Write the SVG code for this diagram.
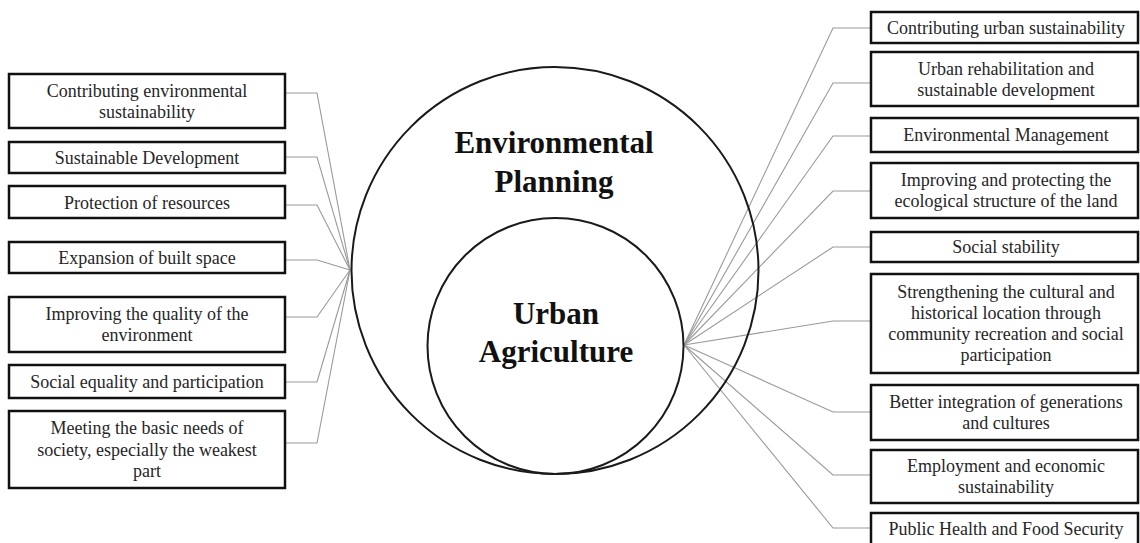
<svg xmlns="http://www.w3.org/2000/svg" width="1140" height="543" viewBox="0 0 1140 543">
<style>
.box{fill:#fff;stroke:#111;stroke-width:2.5}
.t{font-family:"Liberation Serif","Times New Roman",serif;font-size:18px;fill:#262626;text-anchor:middle}
.big{font-family:"Liberation Serif","Times New Roman",serif;font-size:31px;font-weight:bold;fill:#111;text-anchor:middle}
.c{fill:none;stroke:#1a1a1a;stroke-width:2}
.ln{fill:none;stroke:#9a9a9a;stroke-width:1.1}
</style>
<rect width="1140" height="543" fill="#fff"/>
<g id="connectors">
<polyline class="ln" points="285,93 317,93 350,270"/>
<polyline class="ln" points="285,157 317,157 350,270"/>
<polyline class="ln" points="285,205 317,205 350,270"/>
<polyline class="ln" points="285,260 317,260 350,270"/>
<polyline class="ln" points="285,317 317,317 350,270"/>
<polyline class="ln" points="285,382 317,382 350,270"/>
<polyline class="ln" points="285,443 317,443 350,270"/>
<polyline class="ln" points="871,28 833,28 684,345"/>
<polyline class="ln" points="871,83 833,83 684,345"/>
<polyline class="ln" points="871,136 833,136 684,345"/>
<polyline class="ln" points="871,191 833,191 684,345"/>
<polyline class="ln" points="871,247 833,247 684,345"/>
<polyline class="ln" points="871,321 833,321 684,345"/>
<polyline class="ln" points="871,412 833,412 684,345"/>
<polyline class="ln" points="871,475 833,475 684,345"/>
<polyline class="ln" points="871,528 833,528 684,345"/>
</g>
<g id="environmental-planning">
<circle class="c" cx="555" cy="270.5" r="203.5"/>
<text class="big" x="554" y="153">Environmental</text>
<text class="big" x="554" y="192">Planning</text>
</g>
<g id="urban-agriculture">
<circle class="c" cx="555.5" cy="346" r="128"/>
<text class="big" x="556" y="324">Urban</text>
<text class="big" x="556" y="362">Agriculture</text>
</g>
<g id="l1"><rect class="box" x="9" y="74" width="276" height="54"/><text class="t" x="147" y="96.5">Contributing  environmental</text><text class="t" x="147" y="117.5">sustainability</text></g>
<g id="l2"><rect class="box" x="9" y="142" width="276" height="31"/><text class="t" x="147" y="163.5">Sustainable  Development</text></g>
<g id="l3"><rect class="box" x="9" y="186" width="276" height="32"/><text class="t" x="147" y="208.5">Protection of resources</text></g>
<g id="l4"><rect class="box" x="9" y="242" width="276" height="31"/><text class="t" x="147" y="264">Expansion of built space</text></g>
<g id="l5"><rect class="box" x="9" y="297" width="276" height="55"/><text class="t" x="147" y="320">Improving the quality of the</text><text class="t" x="147" y="341">environment</text></g>
<g id="l6"><rect class="box" x="9" y="365" width="276" height="33"/><text class="t" x="147" y="387.5">Social equality and participation</text></g>
<g id="l7"><rect class="box" x="9" y="411" width="276" height="77"/><text class="t" x="147" y="434">Meeting the basic needs of</text><text class="t" x="147" y="455.5">society, especially the weakest</text><text class="t" x="147" y="477">part</text></g>
<g id="r1"><rect class="box" x="871" y="12" width="267" height="31"/><text class="t" x="1006" y="34">Contributing urban sustainability</text></g>
<g id="r2"><rect class="box" x="871" y="52" width="267" height="54"/><text class="t" x="1006" y="74.5">Urban rehabilitation and</text><text class="t" x="1006" y="95.5">sustainable development</text></g>
<g id="r3"><rect class="box" x="871" y="118" width="267" height="34"/><text class="t" x="1006" y="141">Environmental Management</text></g>
<g id="r4"><rect class="box" x="871" y="163" width="267" height="55"/><text class="t" x="1006" y="186">Improving and protecting the</text><text class="t" x="1006" y="207">ecological structure of the land</text></g>
<g id="r5"><rect class="box" x="871" y="232" width="267" height="30"/><text class="t" x="1006" y="253">Social stability</text></g>
<g id="r6"><rect class="box" x="871" y="274" width="267" height="99"/><text class="t" x="1006" y="298">Strengthening the cultural and</text><text class="t" x="1006" y="319">historical location through</text><text class="t" x="1006" y="340">community recreation and social</text><text class="t" x="1006" y="361">participation</text></g>
<g id="r7"><rect class="box" x="871" y="385" width="267" height="55"/><text class="t" x="1006" y="408">Better integration of generations</text><text class="t" x="1006" y="429">and cultures</text></g>
<g id="r8"><rect class="box" x="871" y="450" width="267" height="53"/><text class="t" x="1006" y="472">Employment and economic</text><text class="t" x="1006" y="493">sustainability</text></g>
<g id="r9"><rect class="box" x="871" y="513" width="267" height="40"/><text class="t" x="1006" y="535">Public Health and Food Security</text></g>
</svg>
